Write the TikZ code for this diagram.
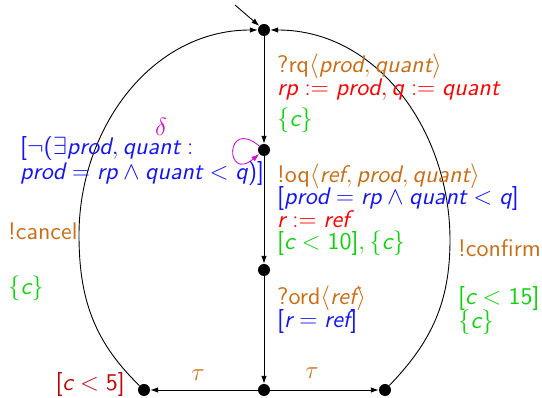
\documentclass[tikz,border=0pt]{standalone}
\usepackage{fontspec}
\setmainfont{lmsans10-regular.otf}[ItalicFont=lmsans10-oblique.otf,BoldFont=lmsans10-bold.otf]
\setsansfont{lmsans10-regular.otf}[ItalicFont=lmsans10-oblique.otf,BoldFont=lmsans10-bold.otf]
\usetikzlibrary{arrows.meta}
\definecolor{act}{RGB}{200,110,25}
\definecolor{asg}{RGB}{255,0,0}
\definecolor{grd}{RGB}{20,20,245}
\definecolor{clk}{RGB}{20,205,20}
\definecolor{inv}{RGB}{185,10,10}
\definecolor{mag}{RGB}{205,20,205}
\newcommand\iv[1]{\mathit{#1}}
\newcommand\tx[1]{\mbox{#1}}
\tikzset{
  st/.style={circle,fill=black,inner sep=0pt,minimum size=12pt},
  lab/.style={anchor=base west,inner sep=0pt,font=\fontsize{24}{24}\selectfont},
  tr/.style={line width=0.9pt,-{Latex[length=8pt,width=5.5pt]}},
}
\begin{document}
\begin{tikzpicture}[x=1pt,y=1pt]
\useasboundingbox (0,0) rectangle (542,398);
% states
\node[st] (T) at (264,368) {};
\node[st] (N2) at (264,248) {};
\node[st] (N3) at (264,128) {};
\node[st] (N4) at (264,8) {};
\node[st] (L) at (144,8) {};
\node[st] (R) at (385,8) {};
\coordinate (init) at (235,393);
\coordinate (lm) at (79,163);
\coordinate (rm) at (450,158);
% transitions
\draw[tr] (init) -- (T);
\draw[tr] (T) -- (N2);
\draw[tr] (N2) -- (N3);
\draw[tr] (N3) -- (N4);
\draw[tr] (N4) -- (L);
\draw[tr] (N4) -- (R);
\draw[tr] (L) to[out=136,in=-90] (lm) to[out=90,in=180] (T);
\draw[tr] (R) to[out=46,in=-90] (rm) to[out=90,in=0] (T);
\draw[tr,mag] (N2) to[out=140,in=220,distance=45pt] (N2);
% labels
\node[lab,text=act] (l1) at (277,325) {?rq$\langle \iv{prod}, \iv{quant}\rangle$};
\node[lab,text=asg] (l2) at (277,302) {$\iv{rp} := \iv{prod}, \iv{q} := \iv{quant}$};
\node[lab,text=clk] (l3) at (277,271) {$\{\iv{c}\}$};
\node[lab,text=act] (l4) at (277,215) {!oq$\langle \iv{ref}, \iv{prod}, \iv{quant}\rangle$};
\node[lab,text=grd] (l5) at (277,193) {$\tx{[}\iv{prod} = \iv{rp} \wedge \iv{quant} < \iv{q}\tx{]}$};
\node[lab,text=asg] (l6) at (277,170) {$\iv{r} := \iv{ref}$};
\node[lab,text=clk] (l7) at (277,148) {$\tx{[}\iv{c} < \tx{10}\tx{]}, \{\iv{c}\}$};
\node[lab,text=act] (l8) at (277,93) {?ord$\langle \iv{ref}\rangle$};
\node[lab,text=grd] (l9) at (277,70) {$\tx{[}\iv{r} = \iv{ref}\tx{]}$};
\node[lab,text=mag,anchor=center] (d) at (161,271) {$\delta$};
\node[lab,text=grd] (g1) at (20,243) {$\tx{[}\neg\tx{(}\exists \iv{prod}, \iv{quant}:$};
\node[lab,text=grd] (g2) at (20,218) {$\iv{prod} = \iv{rp} \wedge \iv{quant} < \iv{q}\tx{)]}$};
\node[lab,text=act] (c1) at (8,158) {!cancel};
\node[lab,text=clk] (c2) at (8,103) {$\{\iv{c}\}$};
\node[lab,text=act] (f1) at (458,141) {!confirm};
\node[lab,text=clk] (f2) at (458,93) {$\tx{[}\iv{c} < \tx{15]}$};
\node[lab,text=clk] (f3) at (458,69) {$\{\iv{c}\}$};
\node[lab,text=inv,anchor=base east] (i5) at (125,7) {$\tx{[}\iv{c} < \tx{5]}$};
\node[lab,text=act,anchor=center] (t1) at (198,23) {$\tau$};
\node[lab,text=act,anchor=center] (t2) at (312,25) {$\tau$};
\end{tikzpicture}
\end{document}
